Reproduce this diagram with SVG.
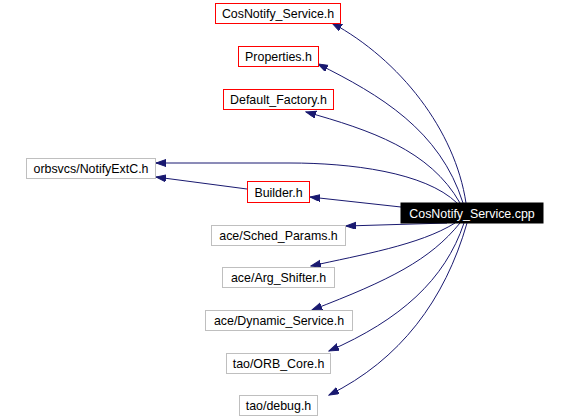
<svg xmlns="http://www.w3.org/2000/svg" width="566" height="417" viewBox="0 0 566 417">
<style>
rect{fill:#fff;stroke-width:1}
.r{stroke:#ff0000}
.g{stroke:#bfbfbf}
text{font-family:"Liberation Sans",Arial,sans-serif;font-size:12.4px;text-anchor:middle;fill:#000}
#cpp rect{fill:#000;stroke:#000}
#cpp text{fill:#fff}
#edges path{fill:none;stroke:#191970;stroke-width:1;marker-end:url(#ah)}
</style>
<defs>
<marker id="ah" markerUnits="userSpaceOnUse" markerWidth="11" markerHeight="8" refX="10" refY="3.5" orient="auto">
<path d="M0,0 L10,3.5 L0,7 z" fill="#191970" stroke="#191970"/>
</marker>
</defs>
<rect x="0" y="0" width="566" height="417" style="fill:#fff;stroke:none"/>
<g id="edges">
<path d="M466,203 C455,130 400,60 332,23"/>
<path d="M463,203 C440,130 380,95 318,64"/>
<path d="M460,203 C430,150 370,130 306,112"/>
<path d="M457,203 C425,172 350,163 290,163 L156,163"/>
<path d="M247,189 L156,177"/>
<path d="M401,207 L310,197"/>
<path d="M447,223 L346,226"/>
<path d="M455,223 C420,245 360,255 311,266"/>
<path d="M460,223 C430,260 390,280 312,310"/>
<path d="M464,223 C445,280 400,320 329,351"/>
<path d="M467,223 C445,300 400,360 329,395"/>
</g>
<g id="n1"><rect class="r" x="215.5" y="3.5" width="125" height="20"/><text x="278" y="18">CosNotify_Service.h</text></g>
<g id="n2"><rect class="r" x="238.5" y="46.5" width="80" height="20"/><text x="278.5" y="61">Properties.h</text></g>
<g id="n3"><rect class="r" x="223.5" y="89.5" width="110" height="20"/><text x="278.5" y="104">Default_Factory.h</text></g>
<g id="n4"><rect class="g" x="26.5" y="158.5" width="129" height="20"/><text x="91" y="173">orbsvcs/NotifyExtC.h</text></g>
<g id="n5"><rect class="r" x="247.5" y="181.5" width="62" height="21"/><text x="278.5" y="196.5">Builder.h</text></g>
<g id="cpp"><rect x="401" y="203" width="142" height="20"/><text x="472" y="218">CosNotify_Service.cpp</text></g>
<g id="n6"><rect class="g" x="211.5" y="225.5" width="134" height="20"/><text x="278.5" y="240">ace/Sched_Params.h</text></g>
<g id="n7"><rect class="g" x="222.5" y="267.5" width="112" height="20"/><text x="278.5" y="282">ace/Arg_Shifter.h</text></g>
<g id="n8"><rect class="g" x="205.5" y="310.5" width="147" height="20"/><text x="279" y="325">ace/Dynamic_Service.h</text></g>
<g id="n9"><rect class="g" x="226.5" y="353.5" width="104" height="20"/><text x="278.5" y="368">tao/ORB_Core.h</text></g>
<g id="n10"><rect class="g" x="239.5" y="395.5" width="78" height="20"/><text x="278.5" y="410">tao/debug.h</text></g>
</svg>
